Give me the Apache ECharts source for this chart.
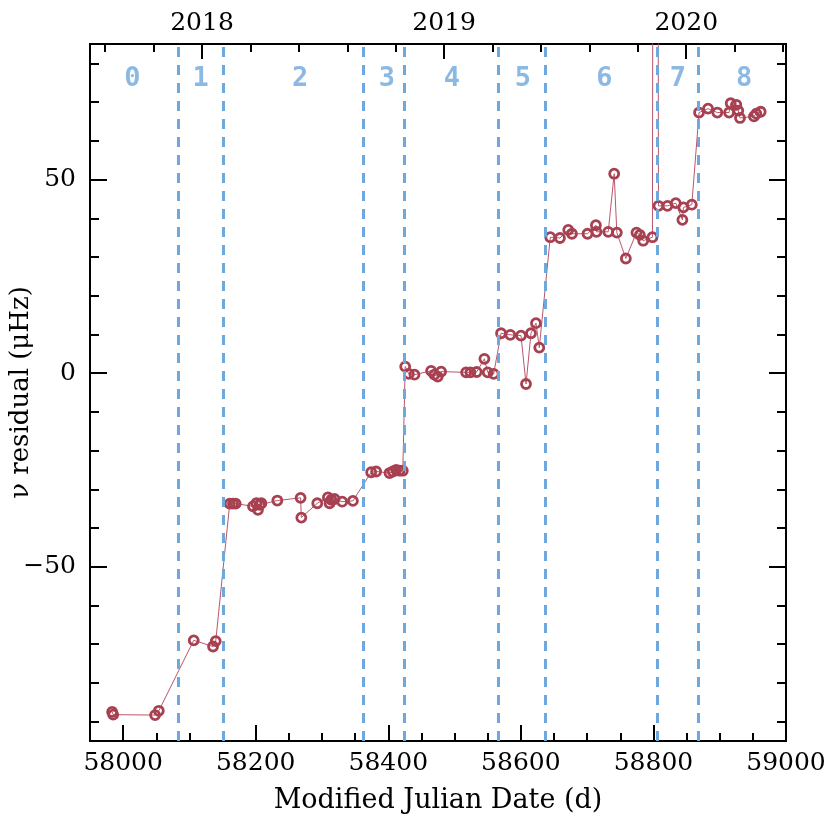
<!DOCTYPE html>
<html>
<head>
<meta charset="utf-8">
<script src="https://cdn.jsdelivr.net/npm/echarts@6/dist/echarts.min.js"></script>
<style>
  html, body { margin: 0; background: #fff; }
  #chart { width: 830px; height: 830px; }
</style>
</head>
<body>
<div id="chart"></div>
<script>
// 数据 (MJD, residual in μHz)
const mjd = [
  57983.4, 57985.0, 58048.2, 58053.8,
  58106.5, 58135.6, 58139.7,
  58160.8, 58165.7, 58169.8, 58195.9, 58201.0, 58203.4, 58206.0, 58208.5, 58232.6,
  58267.7, 58268.8, 58292.9, 58308.9, 58311.4, 58314.0, 58318.9, 58330.5, 58346.6,
  58374.2, 58381.7, 58401.8, 58406.8, 58411.9, 58416.9, 58421.9,
  58425.5, 58431.0, 58439.5, 58464.6, 58469.6, 58474.6, 58479.7, 58517.4, 58523.9,
  58533.3, 58545.0, 58550.0, 58559.0,
  58570.1, 58584.1, 58600.2, 58607.8, 58615.3, 58622.8, 58627.8,
  58644.4, 58659.0, 58671.5, 58677.1, 58700.6, 58713.2, 58714.1, 58731.8, 58740.8,
  58744.8, 58758.4, 58774.4, 58779.5, 58784.5, 58798.5, 58803.0,
  58807.6, 58821.1, 58833.7, 58843.7, 58845.2, 58857.9,
  58868.8, 58882.4, 58896.4, 58914.1, 58916.6, 58925.0, 58928.0, 58930.6, 58951.7,
  58955.2, 58961.8
]
const residual = [
  -87.5, -88.2, -88.3, -87.2,
  -69.0, -70.6, -69.2,
  -33.7, -33.7, -33.7, -34.4, -33.6, -35.3, -34.0, -33.6, -32.9,
  -32.2, -37.3, -33.6, -32.1, -33.6, -32.7, -32.5, -33.2, -33.0,
  -25.6, -25.4, -25.8, -25.4, -25.0, -25.2, -25.2,
  1.7, -0.2, -0.4, 0.6, -0.4, -0.9, 0.4, 0.2, 0.2,
  0.3, 3.7, 0.2, -0.2,
  10.3, 9.9, 9.7, -2.8, 10.3, 12.9, 6.6,
  35.1, 34.9, 37.0, 36.0, 36.0, 38.2, 36.5, 36.5, 51.5,
  36.3, 29.6, 36.3, 35.7, 34.2, 35.1, 600,
  43.2, 43.2, 43.9, 39.6, 42.8, 43.5,
  67.3, 68.3, 67.3, 67.3, 69.7, 69.3, 67.8, 65.9, 66.3,
  67.0, 67.5
]

// 分段边界与编号
const boundaries = [58082.9, 58151.7, 58362.6, 58423.4, 58565.6, 58636.4, 58806.0, 58867.3]
const segNames = ['0', '1', '2', '3', '4', '5', '6', '7', '8']
const segLabelX = [58014, 58117, 58267, 58398, 58496, 58603, 58726, 58837, 58937]
const segLabelY = 76

// 坐标轴刻度
const xMajor = [58000, 58200, 58400, 58600, 58800, 59000]
const xMinor = [57950, 58000, 58050, 58100, 58150, 58200, 58250, 58300, 58350, 58400, 58450,
  58500, 58550, 58600, 58650, 58700, 58750, 58800, 58850, 58900, 58950, 59000]
const yMajor = [-50, 0, 50]
const yMinor = [-90, -80, -70, -60, -50, -40, -30, -20, -10, 0, 10, 20, 30, 40, 50, 60, 70, 80]
const years = [2018, 2019, 2020]
const yearMinor = [2017.6, 2017.8, 2018.2, 2018.4, 2018.6, 2018.8, 2019.2, 2019.4, 2019.6, 2019.8, 2020.2, 2020.4]

const X_MIN = 57950, X_MAX = 59000, Y_MIN = -95, Y_MAX = 85
const yearToMjd = y => 58119 + (y - 2018) * 365.25
const yearMjd = years.map(yearToMjd)
const yearMinorMjd = yearMinor.map(yearToMjd)

const FONT = 'DejaVu Serif'
const RED = '#a74050'
const BLUE = '#6fa8dc'

const tickAxis = (pos, min, max, ticks, len, labels) => ({
  type: 'value',
  position: pos,
  min: min,
  max: max,
  axisLine: { show: false, onZero: false },
  splitLine: { show: false },
  axisTick: { show: true, inside: true, length: len, customValues: ticks, lineStyle: { color: '#000', width: 2 } },
  axisLabel: labels ? Object.assign({ customValues: ticks, color: '#000', fontFamily: FONT, fontSize: 25 }, labels) : { show: false }
})

const chart = echarts.init(document.getElementById('chart'))

const xBottom = tickAxis('bottom', X_MIN, X_MAX, xMajor, 16, { margin: 10, formatter: v => String(v) })
xBottom.name = 'Modified Julian Date (d)'
xBottom.nameLocation = 'middle'
xBottom.nameGap = 46
xBottom.nameMoveOverlap = false
xBottom.nameTextStyle = { color: '#000', fontFamily: FONT, fontSize: 27 }

const yLeft = tickAxis('left', Y_MIN, Y_MAX, yMajor, 17, {
  margin: 14,
  formatter: v => String(v).replace('-', '\u2212')
})
yLeft.name = '\u03bd residual (\u03bcHz)'
yLeft.nameLocation = 'middle'
yLeft.nameGap = 56
yLeft.nameMoveOverlap = false
yLeft.nameTextStyle = { color: '#000', fontFamily: FONT, fontSize: 26 }

const option = {
  animation: false,
  backgroundColor: '#fff',
  grid: {
    left: 90, top: 44, right: 44, bottom: 89,
    outerBoundsMode: 'none', containLabel: false,
    show: true, borderColor: '#000', borderWidth: 2
  },
  xAxis: [
    xBottom,
    tickAxis('bottom', X_MIN, X_MAX, xMinor, 8),
    tickAxis('top', X_MIN, X_MAX, yearMjd, 15, {
      margin: 8,
      formatter: v => String(Math.round(2018 + (v - 58119) / 365.25))
    }),
    tickAxis('top', X_MIN, X_MAX, yearMinorMjd, 8)
  ],
  yAxis: [
    yLeft,
    tickAxis('left', Y_MIN, Y_MAX, yMinor, 9),
    tickAxis('right', Y_MIN, Y_MAX, yMajor, 17),
    tickAxis('right', Y_MIN, Y_MAX, yMinor, 9)
  ],
  series: [
    {
      // 分段虚线
      type: 'line',
      data: [],
      z: 1,
      markLine: {
        silent: true,
        symbol: ['none', 'none'],
        label: { show: false },
        lineStyle: { color: BLUE, width: 3, type: [10, 8] },
        data: boundaries.map(x => ({ xAxis: x }))
      }
    },
    {
      type: 'line',
      z: 3,
      data: mjd.map((x, i) => [x, residual[i]]),
      clip: true,
      symbol: 'circle',
      symbolSize: 9,
      lineStyle: { color: '#b9566a', width: 1 },
      itemStyle: { color: 'rgba(255,255,255,0)', borderColor: RED, borderWidth: 2.8 }
    },
    {
      type: 'scatter',
      z: 2,
      symbolSize: 1,
      itemStyle: { color: 'rgba(255,255,255,0)' },
      data: segLabelX.map(x => [x, segLabelY]),
      label: {
        show: true,
        position: 'inside',
        formatter: p => segNames[p.dataIndex],
        color: BLUE,
        fontFamily: 'DejaVu Sans Mono',
        fontWeight: 'bold',
        fontSize: 27
      }
    }
  ]
}

chart.setOption(option)
</script>
</body>
</html>
